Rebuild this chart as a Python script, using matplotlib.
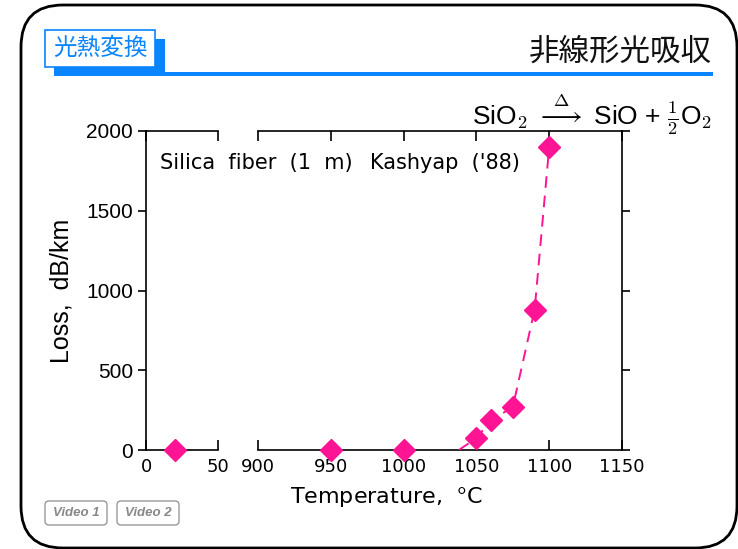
import matplotlib
matplotlib.use("Agg")
import matplotlib.pyplot as plt
from matplotlib.patches import FancyBboxPatch, Rectangle

plt.rcParams['font.family'] = ['DejaVu Sans', 'Noto Sans CJK JP']
plt.rcParams['mathtext.fontset'] = 'cm'

# ---- data ----
temp = [20, 950, 1000, 1050, 1060, 1075, 1090, 1100]
loss = [0, 0, 0, 75, 185, 270, 880, 1900]
fit_temp = [1038, 1050, 1060, 1075, 1090, 1100]
fit_loss = [0, 75, 185, 270, 880, 1900]
left_ticks = [0, 50]
right_ticks = [900, 950, 1000, 1050, 1100, 1150]
y_ticks = [0, 500, 1000, 1500, 2000]

PINK = '#ff1493'
BLUE = '#0a84ff'
W, H = 738, 549

fig = plt.figure(figsize=(W / 100, H / 100), dpi=100)

# background overlay in pixel coordinates
bg = fig.add_axes([0, 0, 1, 1])
bg.set_xlim(0, W)
bg.set_ylim(H, 0)
bg.axis('off')
bg.add_patch(FancyBboxPatch((21 + 42, 5 + 42), 737 - 21 - 84, 548 - 5 - 84,
                            boxstyle='round,pad=42', fc='none', ec='black', lw=2))
# blue shadow box + underline
bg.add_patch(Rectangle((54, 39), 111, 37, fc=BLUE, ec='none'))
bg.add_patch(Rectangle((54, 72), 659, 4, fc=BLUE, ec='none'))
bg.add_patch(Rectangle((45, 30), 110, 37, fc='white', ec=BLUE, lw=1.2))
bg.text(100, 48.5, '光熱変換', color=BLUE, fontsize=17, ha='center', va='center',
        family=['Noto Sans CJK JP', 'DejaVu Sans'])
bg.text(712, 52, '非線形光吸収', color='#111111', fontsize=22, ha='right', va='center',
        family=['Noto Sans CJK JP', 'DejaVu Sans'])
bg.text(712, 124, r'SiO$_2$ $\overset{\Delta}{\longrightarrow}$ SiO + $\frac{1}{2}$O$_2$',
        fontsize=19, ha='right', va='baseline', family=['Liberation Sans', 'DejaVu Sans'])
# video buttons
for x0, lab in [(45, 'Video 1'), (117, 'Video 2')]:
    bg.add_patch(FancyBboxPatch((x0 + 4, 501 + 4), 62 - 8, 24 - 8,
                                boxstyle='round,pad=4', fc='white', ec='#999999', lw=1))
    bg.text(x0 + 31, 513.5, lab, fontsize=9.5, ha='center', va='center',
            color='#888888', fontweight='bold', fontstyle='italic',
            family=['Liberation Sans', 'DejaVu Sans'])

# ---- axes ----
bottom = 1 - 450 / H
height = 319 / H
ax1 = fig.add_axes([146 / W, bottom, 72 / W, height])
ax2 = fig.add_axes([258 / W, bottom, 364 / W, height])

for ax, xl in [(ax1, (0, 50)), (ax2, (900, 1150))]:
    ax.set_xlim(*xl)
    ax.set_ylim(0, 2000)
    ax.patch.set_alpha(0)
    ax.plot(temp, loss, 'D', color=PINK, markersize=11, clip_on=False, zorder=5)
    ax.tick_params(axis='x', direction='in', top=True, bottom=True, length=7,
                   width=1.2, labelsize=13, pad=6)
    ax.tick_params(axis='y', direction='out', length=6, width=1.2, labelsize=15)
    for s in ax.spines.values():
        s.set_linewidth(1.2)

ax2.plot(fit_temp, fit_loss, '--', color=PINK, lw=1.4, dashes=(6, 4), zorder=4)

ax1.set_xticks(left_ticks)
ax2.set_xticks(right_ticks)
ax1.set_yticks(y_ticks)
ax2.set_yticks(y_ticks)
ax1.spines['right'].set_visible(False)
ax2.spines['left'].set_visible(False)
ax1.tick_params(axis='y', left=True, right=False, labelleft=True)
ax2.tick_params(axis='y', left=False, right=True, labelleft=False, labelright=False)
for lab in ax1.get_yticklabels():
    lab.set_family(['Liberation Sans', 'DejaVu Sans'])

ax1.set_ylabel('Loss,  dB/km', fontsize=18, labelpad=9, family=['Liberation Sans', 'DejaVu Sans'])
fig.text(386 / W, 1 - 497 / H, 'Temperature,  $^{\\mathsf{o}}$C', fontsize=16,
         ha='center', va='center')
fig.text(160 / W, 1 - 163 / H, "Silica  fiber  (1  m)", fontsize=15, ha='left', va='center')
fig.text(370 / W, 1 - 163 / H, "Kashyap  ('88)", fontsize=15, ha='left', va='center')

fig.savefig('out.png', dpi=100)
